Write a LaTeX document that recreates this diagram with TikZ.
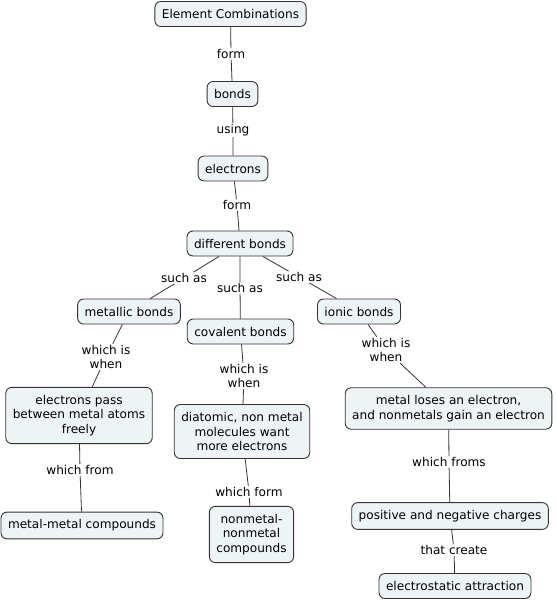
\documentclass[tikz,border=0pt]{standalone}
\usepackage{fontspec}
\setmainfont{DejaVu Sans}
\usepackage{xcolor}
\definecolor{cfill}{RGB}{238,244,246}
\definecolor{cline}{RGB}{51,51,51}
\tikzset{
  concept/.style={draw=cline, fill=cfill, rounded corners=6pt, align=center,
    inner xsep=7pt, inner ysep=7.5pt, minimum height=25pt, line width=0.9pt},
  link/.style={fill=white, inner sep=1pt, align=center},
  conn/.style={draw=cline, line width=0.8pt}
}

\begin{document}
\begin{tikzpicture}[x=1pt, y=-1pt, font=\fontsize{12.1}{14.8}\selectfont]
      \useasboundingbox (0,0) rectangle (555,601);

      % concepts
      \node[concept] (ec) at (230.5,14) {Element Combinations};
      \node[concept] (bonds) at (232.5,94) {bonds};
      \node[concept] (electrons) at (233,168.5) {electrons};
      \node[concept] (diff) at (240,243.5) {different bonds};
      \node[concept] (metallic) at (129,311.5) {metallic bonds};
      \node[concept] (covalent) at (240.5,331.5) {covalent bonds};
      \node[concept] (ionic) at (359,311.5) {ionic bonds};
      \node[concept] (pass) at (79,415.5) {electrons pass\\between metal atoms\\freely};
      \node[concept] (mm) at (82,525.5) {metal-metal compounds};
      \node[concept] (diatomic) at (242,431.5) {diatomic, non metal\\molecules want\\more electrons};
      \node[concept] (nn) at (251.5,534.5) {nonmetal-\\nonmetal\\compounds};
      \node[concept] (loses) at (448.5,408.5) {metal loses an electron,\\and nonmetals gain an electron};
      \node[concept] (charges) at (450,516) {positive and negative charges};
      \node[concept] (attract) at (455,586) {electrostatic attraction};

      % linking phrases
      \node[link] (form1) at (231,54) {form};
      \node[link] (using) at (233,130) {using};
      \node[link] (form2) at (237,205) {form};
      \node[link] (such1) at (184,278) {such as};
      \node[link] (such2) at (240,288) {such as};
      \node[link] (such3) at (299,277) {such as};
      \node[link] (when1) at (106,357) {which is\\when};
      \node[link] (when2) at (244,376) {which is\\when};
      \node[link] (when3) at (386,350) {which is\\when};
      \node[link] (from1) at (80,470) {which from};
      \node[link] (wform) at (249,492) {which form};
      \node[link] (froms) at (449,462) {which froms};
      \node[link] (create) at (454,550) {that create};

      % connectors
      \draw[conn] (ec) -- (form1) -- (bonds);
      \draw[conn] (bonds) -- (using) -- (electrons);
      \draw[conn] (electrons) -- (form2) -- (diff);
      \draw[conn] (diff) -- (such1) -- (metallic);
      \draw[conn] (diff) -- (such2) -- (covalent);
      \draw[conn] (diff) -- (such3) -- (ionic);
      \draw[conn] (metallic) -- (when1) -- (pass);
      \draw[conn] (covalent) -- (when2) -- (diatomic);
      \draw[conn] (ionic) -- (when3) -- (loses);
      \draw[conn] (pass) -- (from1) -- (mm);
      \draw[conn] (diatomic) -- (wform) -- (nn);
      \draw[conn] (loses) -- (froms) -- (charges);
      \draw[conn] (charges) -- (create) -- (attract);
\end{tikzpicture}
\end{document}
